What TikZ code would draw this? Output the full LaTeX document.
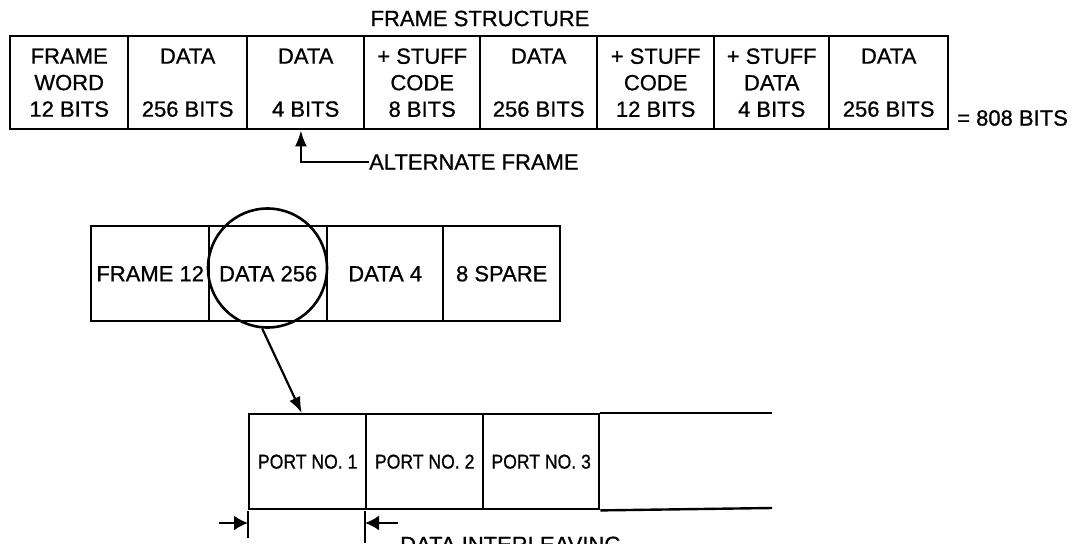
\documentclass[tikz,border=0pt]{standalone}
\usepackage{fontspec}
\setmainfont[FakeBold=0.8]{Liberation Sans}
\newfontfamily\portfnt[FakeStretch=0.88,FakeBold=0.8]{Liberation Sans}
\usetikzlibrary{arrows.meta,calc}
\newcommand\bigtxt{\fontsize{22}{26.5}\selectfont}
\newcommand\porttxt{\portfnt\fontsize{20}{24}\selectfont}
\tikzset{
  cell/.style={draw, line width=2.4pt, rectangle, inner sep=0pt, align=center,
    font=\bigtxt, anchor=north west},
  topcell/.style={cell, minimum height=93},
  midcell/.style={cell, minimum height=95},
  portcell/.style={cell, minimum height=95, font=\porttxt},
  lbl/.style={inner sep=0pt, font=\bigtxt},
  ln/.style={line width=2.4pt},
  arr/.style={line width=2.2pt, -{Latex[length=16pt,width=12pt]}},
  dimarr/.style={line width=2.2pt, -{Latex[length=14pt,width=15pt]}},
}
\begin{document}
\begin{tikzpicture}[x=1pt,y=-1pt]
\useasboundingbox (0,0) rectangle (1075,543);
\clip (0,0) rectangle (1075,543);

% title
\node[lbl] (title) at (480,18.5) {FRAME STRUCTURE};

% frame structure row
\node[topcell, minimum width=118] (f1) at (9,35)   {FRAME\\WORD\\12 BITS};
\node[topcell, minimum width=119] (f2) at (127,35) {DATA\\\mbox{}\\256 BITS};
\node[topcell, minimum width=117] (f3) at (246,35) {DATA\\\mbox{}\\4 BITS};
\node[topcell, minimum width=116] (f4) at (363,35) {+ STUFF\\CODE\\8 BITS};
\node[topcell, minimum width=117] (f5) at (479,35) {DATA\\\mbox{}\\256 BITS};
\node[topcell, minimum width=117] (f6) at (596,35) {+ STUFF\\CODE\\12 BITS};
\node[topcell, minimum width=115] (f7) at (713,35) {+ STUFF\\DATA\\4 BITS};
\node[topcell, minimum width=119] (f8) at (828,35) {DATA\\\mbox{}\\256 BITS};
\node[lbl, anchor=west] (total) at (957,118) {= 808 BITS};

% alternate frame
\node[lbl, anchor=west] (alt) at (369,162) {ALTERNATE FRAME};
\draw[arr] (alt.west) -| ($(f3.south west)!0.46!(f3.south east)$);

% middle row
\node[midcell, minimum width=118] (m1) at (90,225)  {FRAME 12};
\node[midcell, minimum width=118] (m2) at (208,225) {DATA 256};
\node[midcell, minimum width=116] (m3) at (326,225) {DATA 4};
\node[midcell, minimum width=117] (m4) at (442,225) {8 SPARE};

% magnifier circle
\node[draw, circle, line width=2.6pt, minimum size=119, inner sep=0pt] (mag) at (267.5,268) {};

% port row
\node[portcell, minimum width=117] (p1) at (248,413) {PORT NO. 1};
\node[portcell, minimum width=117] (p2) at (365,413) {PORT NO. 2};
\node[portcell, minimum width=116] (p3) at (482,413) {PORT NO. 3};
\coordinate (endT) at (772,413);
\coordinate (endB) at (772,508);
\draw[ln] (p3.north east) -- (endT);
\draw[ln] (p3.south east) -- (endB);

% zoom arrow
\draw[arr] (mag.-95) -- ($(p1.north west)!0.45!(p1.north east)$);

% data interleaving dimension
\coordinate (t1a) at (248,511);
\coordinate (t1b) at (248,538);
\coordinate (t2a) at (365,511);
\coordinate (t2b) at (365,543);
\draw[ln] (t1a) -- (t1b);
\draw[ln] (t2a) -- (t2b);
\coordinate (a1s) at (219,523);
\coordinate (a1e) at (248,523);
\coordinate (a2s) at (398,523);
\coordinate (a2e) at (365,523);
\draw[dimarr] (a1s) -- (a1e);
\draw[dimarr] (a2s) -- (a2e);
\node[lbl, anchor=base west] (dil) at (400,552) {DATA INTERLEAVING};
\end{tikzpicture}
\end{document}
